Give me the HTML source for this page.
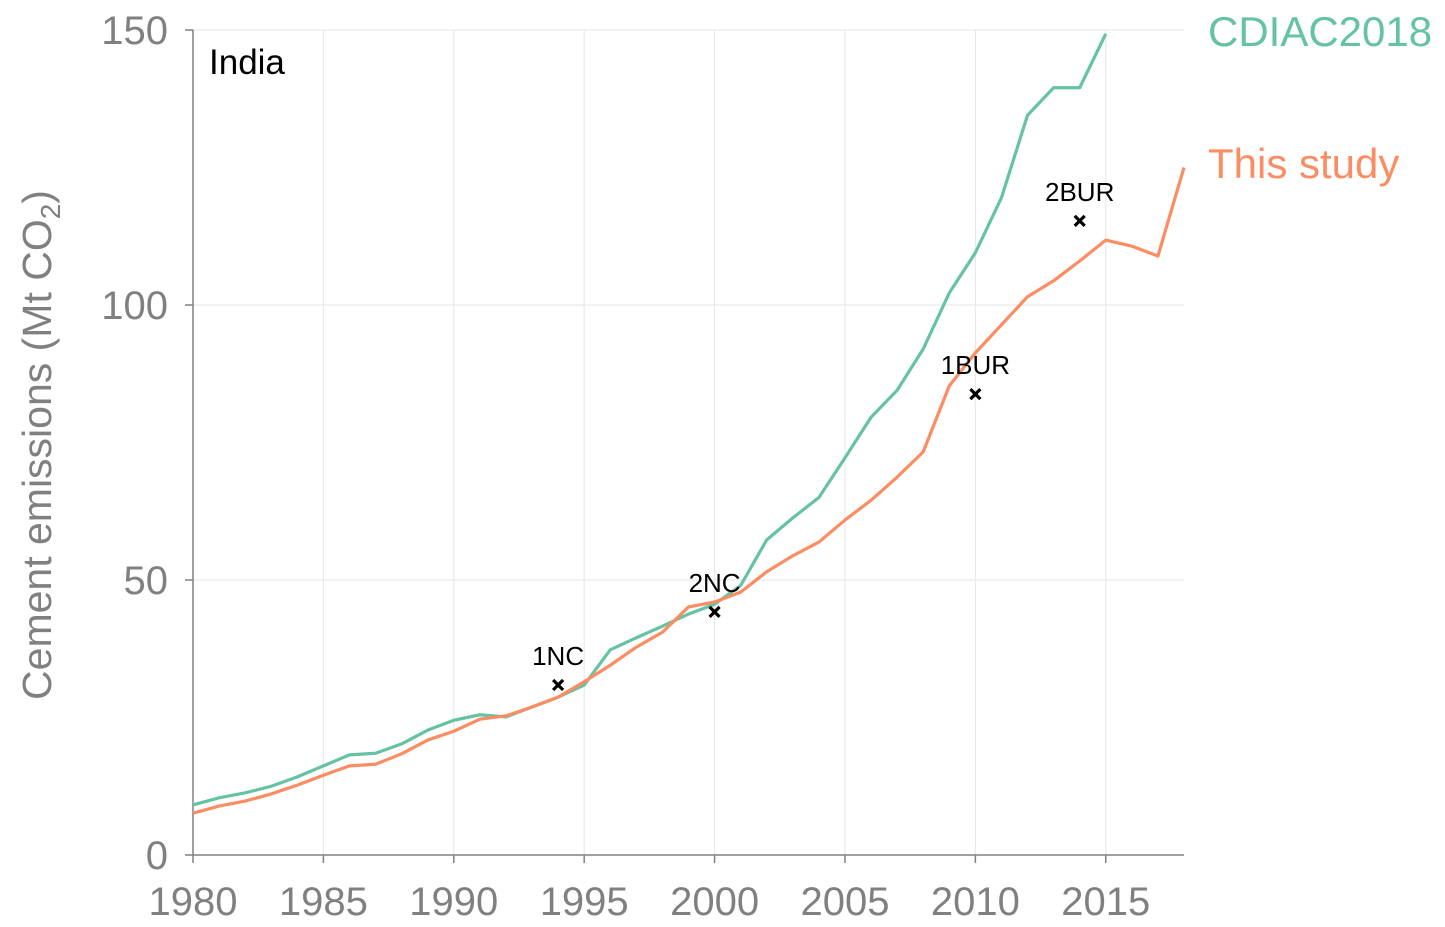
<!DOCTYPE html>
<html><head><meta charset="utf-8"><style>
html,body{margin:0;padding:0;background:#fff;}
svg{display:block;font-family:"Liberation Sans",Arial,sans-serif;}
</style></head><body>
<svg id="chart" width="1445" height="927">
<g id="grid"></g>
<g id="axes"></g>
<g id="series"></g>
<g id="marks"></g>
<text x="209" y="74" font-size="35" fill="#000">India</text>
<text x="1208" y="46" font-size="42" fill="#66c2a5">CDIAC2018</text>
<text x="1208" y="178" font-size="42" fill="#fc8d62">This study</text>
<text transform="translate(51,445) rotate(-90)" text-anchor="middle" font-size="41" fill="#808080">Cement emissions (Mt CO<tspan font-size="28" dy="9">2</tspan><tspan dy="-9">)</tspan></text>
</svg>
<script>
const years = [1980,1981,1982,1983,1984,1985,1986,1987,1988,1989,1990,1991,1992,1993,1994,1995,1996,1997,1998,1999,2000,2001,2002,2003,2004,2005,2006,2007,2008,2009,2010,2011,2012,2013,2014,2015,2016,2017,2018];
const cdiac = [9.1,10.4,11.3,12.5,14.2,16.2,18.2,18.5,20.2,22.7,24.5,25.5,25.1,26.9,28.7,30.9,37.3,39.5,41.6,43.8,45.6,49,57.3,61.3,65,72.2,79.6,84.5,92,102.2,109.5,119.5,134.5,139.5,139.5,149.3];
const study = [7.6,8.9,9.8,11.1,12.7,14.5,16.2,16.5,18.4,20.9,22.5,24.7,25.3,26.9,28.7,31.5,34.5,37.8,40.5,45.1,46,47.8,51.5,54.4,56.9,60.9,64.5,68.7,73.3,85.3,91.3,96.4,101.5,104.4,108,111.8,110.7,108.9,125];
const markerLabels = ["1NC","2NC","1BUR","2BUR"];
const markerYears = [1994,2000,2010,2014];
const markerValues = [30.9,44.2,83.8,115.3];
const xTicks = [1980,1985,1990,1995,2000,2005,2010,2015];
const yTicks = [0,50,100,150];

const NS="http://www.w3.org/2000/svg";
const x = v => 193 + (v-1980)*(1184-193)/38;
const y = v => 855 - v*5.5;
function mk(tag, parent, attrs){const e=document.createElementNS(NS,tag);for(const k in attrs)e.setAttribute(k,attrs[k]);parent.appendChild(e);return e;}
const grid=document.getElementById('grid'), axes=document.getElementById('axes'), ser=document.getElementById('series'), marks=document.getElementById('marks');

xTicks.forEach(t=>{
  const g=mk('line',grid,{x1:x(t),x2:x(t),y1:30,y2:855,stroke:'#e6e6e6','stroke-width':1});
  
  
  const tk=mk('line',axes,{x1:x(t),x2:x(t),y1:855,y2:863,stroke:'#808080','stroke-width':1.5});
  
  
  const l=mk('text',axes,{x:x(t),y:915,'text-anchor':'middle','font-size':40,fill:'#808080'});
  l.textContent=t;
  
  
});
yTicks.forEach(t=>{
  const g=mk('line',grid,{x1:193,x2:1184,y1:y(t),y2:y(t),stroke:'#e6e6e6','stroke-width':1});
  
  
  const tk=mk('line',axes,{x1:185,x2:193,y1:y(t),y2:y(t),stroke:'#808080','stroke-width':1.5});
  
  
  const l=mk('text',axes,{x:168,y:y(t)+14,'text-anchor':'end','font-size':40,fill:'#808080'});
  l.textContent=t;
  
  
});
const ya=mk('line',axes,{x1:193,x2:193,y1:30,y2:855,stroke:'#808080','stroke-width':1.5});


const xa=mk('line',axes,{x1:193,x2:1184,y1:855,y2:855,stroke:'#808080','stroke-width':1.5});



function line(vals,color,name){
  const d=vals.map((v,i)=>(i?'L':'M')+x(years[i])+','+y(v)).join(' ');
  const p=mk('path',ser,{d:d,fill:'none',stroke:color,'stroke-width':3.2,'stroke-linejoin':'round'});
  
  
}
line(cdiac,'#66c2a5','cdiac2018-line');
line(study,'#fc8d62','this-study-line');

markerYears.forEach((yr,i)=>{
  const cx=x(yr), cy=y(markerValues[i]);
  const m=mk('path',marks,{d:`M${cx-5},${cy-5}L${cx+5},${cy+5}M${cx-5},${cy+5}L${cx+5},${cy-5}`,stroke:'#000','stroke-width':3.2});
  
  
  const t=mk('text',marks,{x:cx,y:cy-20,'text-anchor':'middle','font-size':26,fill:'#000'});
  t.textContent=markerLabels[i];
  
  
});
</script>
</body></html>
